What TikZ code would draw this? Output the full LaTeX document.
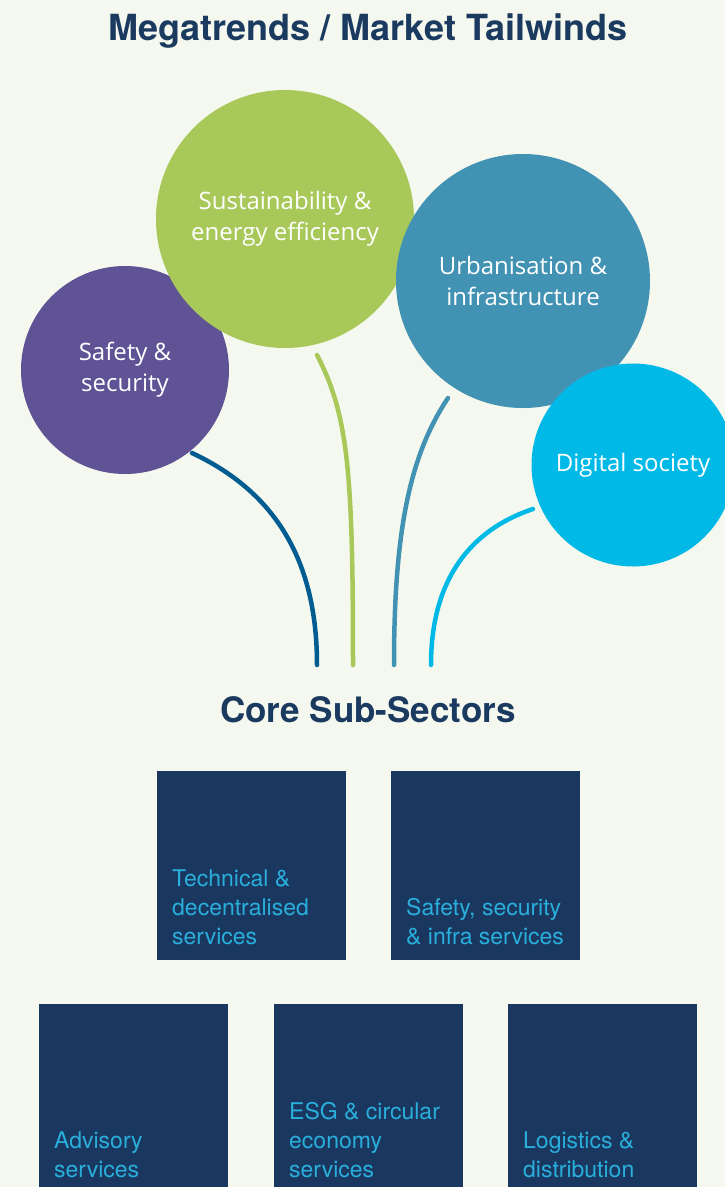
\documentclass[tikz,border=0pt]{standalone}
\usepackage{fontspec}
\setmainfont{TeX Gyre Heros}
\newfontfamily\bubblefont{Open Sans}

\definecolor{pagebg}{HTML}{F5F8EE}
\definecolor{navy}{HTML}{1B3A5F}
\definecolor{boxnavy}{HTML}{19375F}
\definecolor{boxtext}{HTML}{2AAFDC}
\definecolor{trendpurple}{HTML}{5F5295}
\definecolor{trendgreen}{HTML}{A8C85A}
\definecolor{trendteal}{HTML}{4292B4}
\definecolor{trendcyan}{HTML}{00B9E7}
\definecolor{stemblue}{HTML}{005C91}

\tikzset{
  heading/.style={text=navy, font=\bfseries\fontsize{36}{40}\selectfont, inner sep=0pt},
  bubble/.style={circle, draw=none, inner sep=0pt, text=white, align=center,
    font=\bubblefont\fontsize{24}{31}\selectfont},
  stem/.style={line width=4.5pt, line cap=round},
  sector/.style={rectangle, fill=boxnavy, draw=none, minimum width=189pt,
    minimum height=189pt, inner sep=0pt, anchor=north west},
  sectortext/.style={text=boxtext, align=left, anchor=south west, inner sep=0pt,
    text depth=0pt, font=\fontsize{23}{29}\selectfont},
}

\begin{document}
\begin{tikzpicture}[x=1pt, y=-1pt]
\useasboundingbox (0,0) rectangle (725,1187);
\fill[pagebg] (0,0) rectangle (725,1187);

% headings
\node[heading] (title) at (368,31) {Megatrends / Market Tailwinds};
\node[heading, font=\bfseries\fontsize{35}{38}\selectfont] (core) at (368,710) {Core Sub-Sectors};

% megatrend bubbles (back to front)
\node[bubble, fill=trendpurple, minimum size=208pt] (safety) at (125,370) {Safety \&\\security};
\node[bubble, fill=trendgreen, minimum size=258pt] (sustain) at (285,219) {Sustainability \&\\energy efficiency};
\node[bubble, fill=trendteal, minimum size=254pt] (urban) at (523,281) {Urbanisation \&\\infrastructure};
\node[bubble, fill=trendcyan, minimum size=203pt] (digital) at (633,465) {Digital society};

% stem end points
\coordinate (s1a) at (192,453);
\coordinate (s1b) at (317,665);
\coordinate (s2a) at (317,355);
\coordinate (s2b) at (353,665);
\coordinate (s3a) at (448,398);
\coordinate (s3b) at (394,665);
\coordinate (s4a) at (533,509);
\coordinate (s4b) at (431,665);

% stems
\draw[stem, stemblue] (s1a) .. controls (275,492) and (317,560) .. (s1b);
\draw[stem, trendgreen] (s2a) .. controls (348,415) and (353,470) .. (s2b);
\draw[stem, trendteal] (s3a) .. controls (410,455) and (394,530) .. (s3b);
\draw[stem, trendcyan] (s4a) .. controls (470,530) and (431,580) .. (s4b);

% sub-sector tiles
\node[sector] (tech) at (157,771) {};
\node[sector] (infra) at (391,771) {};
\node[sector] (advisory) at (39,1004) {};
\node[sector] (esg) at (274,1004) {};
\node[sector] (logistics) at (508,1004) {};

\node[sectortext] (techtxt) at ([shift={(15pt,16pt)}]tech.south west) {Technical \&\\decentralised\\services};
\node[sectortext] (infratxt) at ([shift={(15pt,16pt)}]infra.south west) {Safety, security\\\& infra services};
\node[sectortext] (advisorytxt) at ([shift={(15pt,16pt)}]advisory.south west) {Advisory\\services};
\node[sectortext] (esgtxt) at ([shift={(15pt,16pt)}]esg.south west) {ESG \& circular\\economy\\services};
\node[sectortext] (logisticstxt) at ([shift={(15pt,16pt)}]logistics.south west) {Logistics \&\\distribution};
\end{tikzpicture}
\end{document}
